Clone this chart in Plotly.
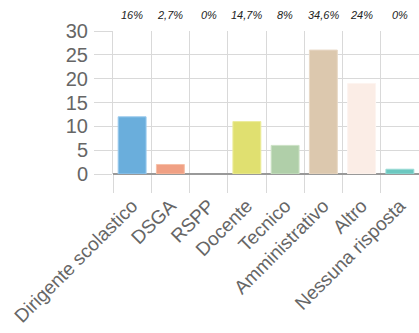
import plotly.graph_objects as go

categories = ["Dirigente scolastico", "DSGA", "RSPP", "Docente", "Tecnico",
              "Amministrativo", "Altro", "Nessuna risposta"]
values = [12, 2, 0, 11, 6, 26, 19, 1]
pct_labels = ["16%", "2,7%", "0%", "14,7%", "8%", "34,6%", "24%", "0%"]
y_ticks = [0, 5, 10, 15, 20, 25, 30]

bar_colors = ["#6aaedc", "#f0a084", "#e0e070", "#e0e070", "#b0cfa9",
              "#dcc8ae", "#fbede6", "#6cc8c0"]
bar_edges = ["#9ccbee", "#f6c0a8", "#ecec9c", "#ecec9c", "#cde2c6",
             "#e8d9c6", "#fdf4f0", "#9cdcd6"]
edge_widths = [1 if v > 0 else 0 for v in values]

font_family = "Liberation Sans, Arial, sans-serif"

fig = go.Figure()
fig.add_trace(go.Bar(
    x=categories, y=values,
    marker=dict(color=bar_colors, line=dict(color=bar_edges, width=edge_widths)),
    hoverinfo="x+y",
))

for cat, lab in zip(categories, pct_labels):
    fig.add_annotation(x=cat, y=1, xref="x", yref="paper",
                       text="<i>" + lab + "</i>",
                       showarrow=False, yanchor="middle", yshift=16,
                       font=dict(family=font_family, size=11, color="#222"))

fig.update_layout(
    width=419, height=333,
    margin=dict(l=113, r=0, t=31, b=159, autoexpand=False),
    paper_bgcolor="white", plot_bgcolor="white",
    bargap=0.27, showlegend=False,
    font=dict(family=font_family, color="#666"),
)
fig.update_xaxes(
    type="category", tickson="boundaries", showgrid=True,
    gridcolor="#d9d9d9", gridwidth=1,
    ticks="outside", ticklen=18, tickcolor="#d9d9d9", tickwidth=1,
    tickangle=-45, tickfont=dict(size=19, color="#666", family=font_family),
    showline=False, zeroline=False, automargin=False,
    ticklabelstandoff=16,
)
fig.update_yaxes(
    range=[0, 30], tickvals=y_ticks, showgrid=True,
    gridcolor="#d9d9d9", gridwidth=1,
    ticks="outside", ticklen=18, tickcolor="#d9d9d9", tickwidth=1,
    tickfont=dict(size=20, color="#666", family=font_family),
    zeroline=True, zerolinecolor="#999", zerolinewidth=1.5,
    showline=True, linecolor="#d9d9d9", linewidth=1,
    ticklabelstandoff=2, automargin=False,
)

fig.write_html("out.html",
               config={"displayModeBar": False},
               post_script="document.body.style.margin='0';"
                           "document.body.style.overflow='hidden';")
